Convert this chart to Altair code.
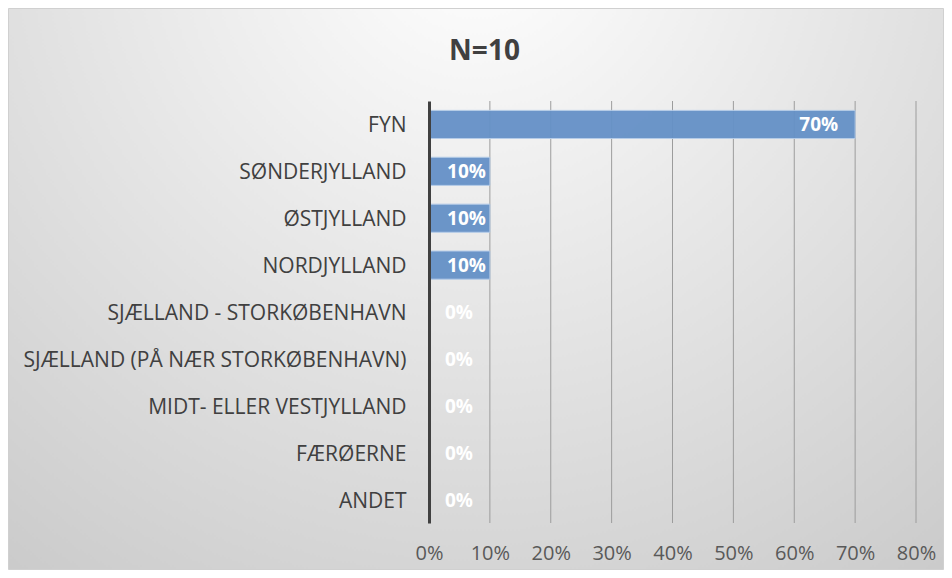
import altair as alt
import pandas as pd

regions = ["FYN", "SØNDERJYLLAND", "ØSTJYLLAND", "NORDJYLLAND",
           "SJÆLLAND - STORKØBENHAVN", "SJÆLLAND (PÅ NÆR STORKØBENHAVN)",
           "MIDT- ELLER VESTJYLLAND", "FÆRØERNE", "ANDET"]
shares = [0.70, 0.10, 0.10, 0.10, 0.0, 0.0, 0.0, 0.0, 0.0]
x_ticks = [0, 0.1, 0.2, 0.3, 0.4, 0.5, 0.6, 0.7, 0.8]

df = pd.DataFrame({"region": regions, "share": shares})
ticks_df = pd.DataFrame({"tick": x_ticks[1:]})

W, H = 487, 422
PL, PT, PR, PB = 421, 93, 28, 47
FONT = "Open Sans"

y_enc = alt.Y("region:N", sort=regions,
              scale=alt.Scale(paddingInner=0.4, paddingOuter=0.2),
              axis=alt.Axis(title=None, labelFont=FONT, labelFontSize=21,
                            labelColor="#404040", labelPadding=23, ticks=False,
                            labelLimit=0, labelOffset=2,
                            domain=True, domainColor="#404040", domainWidth=3,
                            grid=False, zindex=1))
x_scale = alt.Scale(domain=[0, 0.8], nice=False)
x_enc = alt.X("share:Q", scale=x_scale,
              axis=alt.Axis(title=None, format=".0%", values=x_ticks,
                            labelFont=FONT, labelFontSize=20, labelColor="#595959",
                            labelPadding=20, ticks=False, domain=False,
                            labelFlush=False, labelOverlap=False,
                            grid=False, zindex=1))

bg = alt.Chart(alt.Data(values=[{}])).mark_rect(
    color=alt.RadialGradient(
        gradient="radial", x1=0.5, y1=0.12, r1=0.0, x2=0.5, y2=0.12, r2=0.95,
        stops=[alt.GradientStop(offset=0, color="#ffffff"),
               alt.GradientStop(offset=1, color="#c4c4c4")]),
    stroke="#d0d0d0", strokeWidth=1,
).encode(
    x=alt.value(-PL + 0.5), x2=alt.value(W + PR - 0.5),
    y=alt.value(-PT + 0.5), y2=alt.value(H + PB - 0.5),
)

grid = alt.Chart(ticks_df).mark_rule(color="#9c9c9c", strokeWidth=1).encode(
    x=alt.X("tick:Q", scale=x_scale), y=alt.value(0), y2=alt.value(H))

bars = alt.Chart(df).mark_bar(color="#6591c7", stroke="#b3cbe8", strokeWidth=1,
                              opacity=0.95).encode(y=y_enc, x=x_enc)

lab_font = dict(font=FONT, fontSize=19, fontWeight="bold", color="white")
def label_layer(cond, align, dx):
    return alt.Chart(df).transform_filter(cond).mark_text(
        align=align, baseline="middle", dx=dx, dy=1, **lab_font).encode(
        y=alt.Y("region:N", sort=regions), x=alt.X("share:Q", scale=x_scale),
        text=alt.Text("share:Q", format=".0%"))

labels_big = label_layer("datum.share >= 0.5", "right", -17)
labels_small = label_layer("datum.share > 0 && datum.share < 0.5", "right", -4)
labels_zero = label_layer("datum.share == 0", "left", 16)

chart = alt.layer(bg, grid, bars, labels_big, labels_small, labels_zero).properties(
    width=W, height=H,
    title=alt.TitleParams("N=10", font=FONT, fontSize=28, fontWeight="bold",
                          color="#404040", anchor="middle", frame="group",
                          dx=-188, offset=-58),
    autosize=alt.AutoSizeParams(type="none"),
    padding={"left": PL, "top": PT, "right": PR, "bottom": PB},
).configure_view(stroke=None).configure(background="#ffffff")

chart.save("out.html", embed_options={"renderer": "svg", "actions": False})
